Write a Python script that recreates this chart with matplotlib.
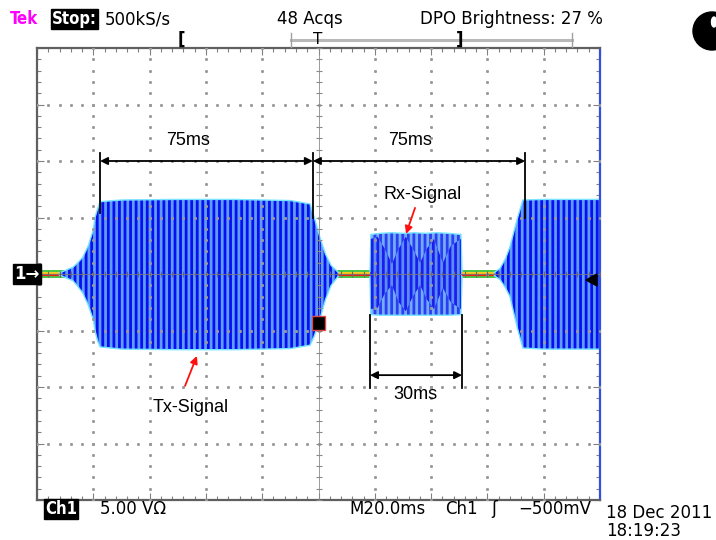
import numpy as np
import matplotlib
matplotlib.use("Agg")
import matplotlib.pyplot as plt
from matplotlib.patches import Rectangle, Circle, Ellipse, Polygon

W, H = 716, 540

# screen: time in ms (20 ms/div, trigger at 0), amplitude in divisions
# Tx burst envelope
tx_t = [-92, -87.2, -85.5, -83.7, -81.8, -80.0, -79.4, -78.5, -77.6, -70, -50, -30,
        -10, -3.0, -1.5, 0.5, 2.5, 4.5, 7.0]
tx_hi = [0.02, 0.12, 0.2, 0.3, 0.5, 0.78, 1.0, 1.15, 1.28, 1.31, 1.32, 1.32,
         1.30, 1.24, 1.0, 0.65, 0.35, 0.15, 0.03]
tx_lo = [-0.02, -0.12, -0.22, -0.34, -0.55, -0.81, -1.0, -1.18, -1.29, -1.33, -1.34, -1.34,
         -1.32, -1.26, -1.1, -0.8, -0.45, -0.2, -0.04]

# Rx burst, outer envelope and inner (dense) band
rx_t = [18.3, 18.6, 22, 26, 30, 34, 38, 42, 46, 50.6, 51.0]
rx_hi = [0.05, 0.70, 0.72, 0.73, 0.72, 0.73, 0.72, 0.73, 0.72, 0.70, 0.05]
rx_lo = [-0.05, -0.72, -0.73, -0.73, -0.73, -0.73, -0.73, -0.73, -0.73, -0.72, -0.05]
rxi_t = [18.6, 21, 23.5, 26.1, 28.5, 31, 33.5, 36.1, 38.5, 41, 44.2, 47, 50.6]
rxi_hi = [0.62, 0.66, 0.45, 0.18, 0.45, 0.66, 0.45, 0.2, 0.45, 0.62, 0.2, 0.5, 0.62]
rxi_lo = [-0.62, -0.6, -0.35, -0.2, -0.5, -0.66, -0.4, -0.2, -0.45, -0.62, -0.25, -0.5, -0.62]

# second Tx burst (runs off the right edge)
tx2_t = [62.5, 64.5, 66.5, 68.0, 70.5, 72.6, 80, 90, 100]
tx2_hi = [0.03, 0.1, 0.28, 0.48, 0.96, 1.31, 1.32, 1.32, 1.32]
tx2_lo = [-0.03, -0.1, -0.25, -0.4, -0.93, -1.31, -1.33, -1.33, -1.33]

# idle noise between bursts
gap_start = [-100, 6.0, 51.0]
gap_end = [-88.0, 18.3, 63.5]

# measurement markers
mark_t = [-77.6, -2.0, 73.4]
rx_win = [18.3, 51.0]

plt.rcParams["hatch.linewidth"] = 2.0

fig = plt.figure(figsize=(W / 100, H / 100), dpi=100)
fig.patch.set_facecolor("white")
ax = fig.add_axes([37 / W, 40 / H, 563 / W, 452 / H])
ax.set_xlim(-100, 100)
ax.set_ylim(-4, 4)

# noise trace
for s, e in zip(gap_start, gap_end):
    ax.fill_between([s, e], [-0.07, -0.07], [0.07, 0.07], color="#48c848", lw=0, zorder=1)
    ax.plot([s, e], [0.025, 0.025], color="#f4d020", lw=1.4, zorder=1)
    ax.plot([s, e], [-0.015, -0.015], color="#e82010", lw=1.6, zorder=1)

def burst(t, hi, lo):
    ax.fill_between(t, lo, hi, facecolor="#5e9cff", edgecolor="#0810f0", hatch="|||", lw=0, zorder=2)
    ax.plot(t, hi, color="#78e4ff", lw=1.0, zorder=2)
    ax.plot(t, lo, color="#78e4ff", lw=1.0, zorder=2)

burst(tx_t, tx_hi, tx_lo)
burst(tx2_t, tx2_hi, tx2_lo)
ax.fill_between(rx_t, rx_lo, rx_hi, facecolor="#74aaff", edgecolor="#2a40f0", hatch="|||", lw=0, zorder=2)
ax.plot(rx_t, rx_hi, color="#78e4ff", lw=1.0, zorder=2)
ax.plot(rx_t, rx_lo, color="#78e4ff", lw=1.0, zorder=2)
ax.fill_between(rxi_t, rxi_lo, rxi_hi, facecolor="#1a20ea", edgecolor="#5a8cff", hatch="|||", lw=0, zorder=2)

# graticule
gx = np.arange(-100, 101, 20)
gy = np.arange(-4, 5, 1)
fine_y = np.arange(-4, 4.01, 0.2)
fine_x = np.arange(-100, 100.1, 4)
for x in gx[1:-1]:
    if x != 0:
        ax.plot(np.full_like(fine_y, x), fine_y, ls="none", marker="s", ms=1.1, color="#9a9a9a", zorder=3)
for y in gy[1:-1]:
    if y != 0:
        ax.plot(fine_x, np.full_like(fine_x, y), ls="none", marker="s", ms=1.1, color="#9a9a9a", zorder=3)
ax.axhline(0, color="#7a7a7a", lw=0.6, zorder=3)
ax.axvline(0, color="#8a8a8a", lw=0.6, zorder=3)
ax.plot(fine_x, np.zeros_like(fine_x), ls="none", marker="|", ms=4, mew=0.8, color="#6a6a6a", zorder=3)
ax.plot(np.zeros_like(fine_y), fine_y, ls="none", marker="_", ms=4, mew=0.8, color="#8a8a8a", zorder=3)

ax.set_xticks(gx)
ax.set_xticks(fine_x, minor=True)
ax.set_yticks(gy)
ax.set_yticks(fine_y, minor=True)
ax.tick_params(which="both", direction="in", top=True, right=True, labelbottom=False, labelleft=False,
               color="#808080")
ax.tick_params(which="major", length=5, width=0.8)
ax.tick_params(which="minor", length=3, width=0.8)
for side in ["left", "top", "bottom"]:
    ax.spines[side].set_color("#606060")
    ax.spines[side].set_linewidth(1.6)
ax.spines["right"].set_color("#3050e0")
ax.spines["right"].set_linewidth(1.6)

# measurement annotations
arrow = dict(arrowstyle="<|-|>", color="black", lw=1.3, mutation_scale=11, shrinkA=0, shrinkB=0)
ax.annotate("", xy=(mark_t[1], 2.0), xytext=(mark_t[0], 2.0), arrowprops=arrow, zorder=4)
ax.annotate("", xy=(mark_t[2], 2.0), xytext=(mark_t[1], 2.0), arrowprops=arrow, zorder=4)
ax.plot([mark_t[0], mark_t[0]], [2.14, 1.08], color="black", lw=1.3, zorder=4)
ax.plot([mark_t[1], mark_t[1]], [2.14, 1.0], color="black", lw=1.3, zorder=4)
ax.plot([mark_t[2], mark_t[2]], [2.14, 1.0], color="black", lw=1.3, zorder=4)
ax.annotate("", xy=(rx_win[1], -1.79), xytext=(rx_win[0], -1.79), arrowprops=arrow, zorder=4)
ax.plot([rx_win[0], rx_win[0]], [-0.73, -2.02], color="black", lw=1.3, zorder=4)
ax.plot([rx_win[1], rx_win[1]], [-0.73, -2.02], color="black", lw=1.3, zorder=4)

lab = dict(family="Liberation Sans", fontsize=13, ha="center", va="center", zorder=5)
ax.text(-46.4, 2.37, "75ms", **lab)
ax.text(32.5, 2.37, "75ms", **lab)
ax.text(34.3, -2.14, "30ms", **lab)
ax.text(37.1, 1.40, "Rx-Signal", **lab)
ax.text(-45.3, -2.37, "Tx-Signal", **lab)
red = dict(arrowstyle="-|>", color="#ff1010", lw=1.3, mutation_scale=11, shrinkA=0, shrinkB=0)
ax.annotate("", xy=(31.1, 0.71), xytext=(34.3, 1.17), arrowprops=red, zorder=5)
ax.annotate("", xy=(-43.2, -1.45), xytext=(-47.4, -1.98), arrowprops=red, zorder=5)

# screen overlay in pixel coordinates
ov = fig.add_axes([0, 0, 1, 1], zorder=10)
ov.set_xlim(0, W)
ov.set_ylim(H, 0)
ov.axis("off")
ov.patch.set_alpha(0)

scope = dict(family="DejaVu Sans", fontsize=12, va="center", ha="left")
ov.text(10, 19, "Tek", color="#ff00ff", fontweight="bold", fontstretch="condensed", **scope)
ov.text(52, 19, "Stop:", color="white", fontweight="bold", fontstretch="condensed",
        bbox=dict(facecolor="black", edgecolor="black", pad=1.0), **scope)
ov.text(105, 19, "500kS/s", color="black", **scope)
ov.text(277, 19, "48 Acqs", color="black", **scope)
ov.text(420, 19, "DPO Brightness: 27 %", color="black", **scope)

ov.plot([291, 572], [40, 40], color="#b8b8b8", lw=2.2)
ov.plot([291, 291], [33, 47], color="#a0a0a0", lw=1)
ov.plot([572, 572], [33, 47], color="#a0a0a0", lw=1)
ov.text(178, 40, "[", color="black", fontweight="bold", **scope)
ov.text(318, 40, "T", color="black", family="DejaVu Sans", fontsize=11, ha="center", va="center")
ov.text(456, 40, "]", color="black", fontweight="bold", **scope)

ov.add_patch(Circle((712, 31), 19, color="black"))
ov.add_patch(Ellipse((714, 22), 5, 10, color="white"))

ov.text(14, 274, "1\u2192", color="white", fontweight="bold",
        bbox=dict(facecolor="black", edgecolor="black", pad=1.0), **scope)
ov.add_patch(Rectangle((312, 316), 13, 14, facecolor="black", edgecolor="#e04848", lw=1))
ov.add_patch(Polygon([(586, 280), (597, 274), (597, 286)], closed=True, color="black"))

ov.text(45, 509, "Ch1", color="white", fontweight="bold", fontstretch="condensed",
        bbox=dict(facecolor="black", edgecolor="black", pad=1.0), **scope)
ov.text(100, 509, "5.00 V\u03a9", color="black", **scope)
ov.text(349, 509, "M20.0ms", color="black", **scope)
ov.text(445, 509, "Ch1", color="black", **scope)
ov.text(491, 509, "\u0283", color="black", **scope)
ov.text(518, 509, "\u2212500mV", color="black", **scope)
ov.text(606, 513, "18 Dec 2011", color="black", **scope)
ov.text(606, 531, "18:19:23", color="black", **scope)

fig.savefig("out.png", dpi=100)
